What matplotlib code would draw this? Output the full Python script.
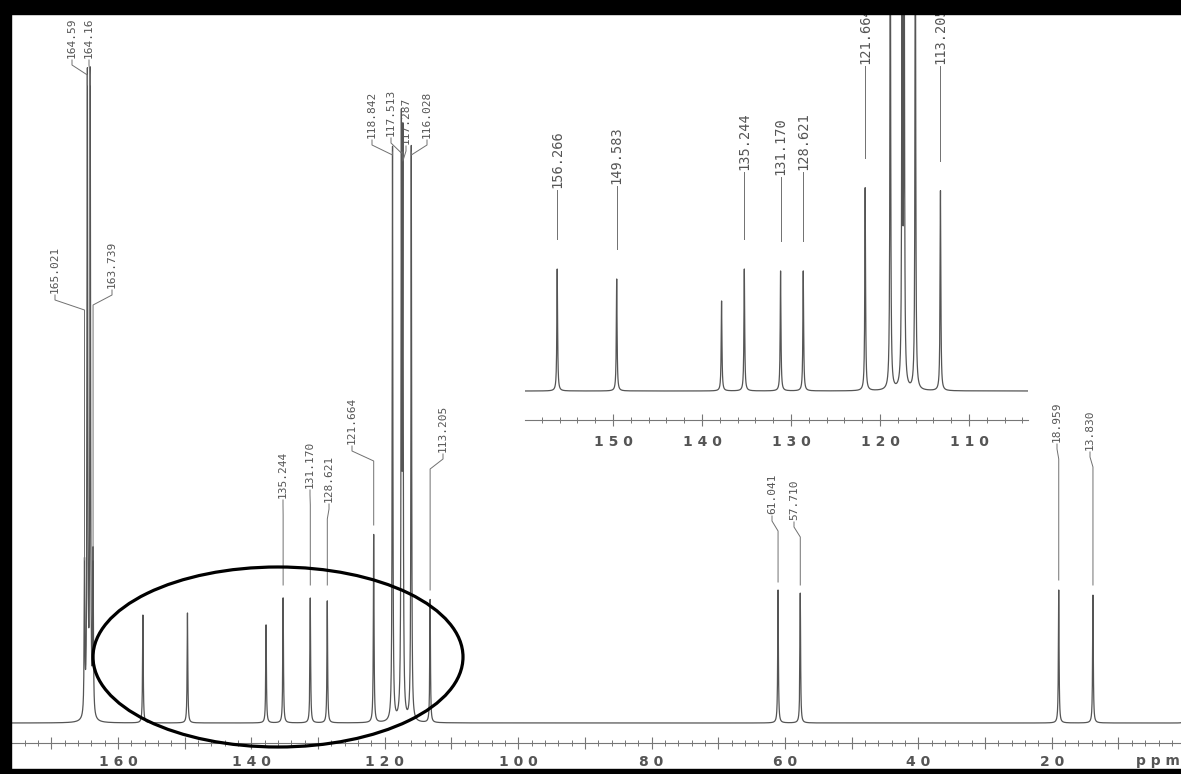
import numpy as np
import matplotlib
matplotlib.use("Agg")
import matplotlib.pyplot as plt
from matplotlib.patches import Ellipse, Rectangle
from matplotlib.ticker import MultipleLocator, FuncFormatter

W, H = 1181, 774

# 13C peaks (ppm) and their heights (main trace / expansion)
peak_ppm = [165.021, 164.59, 164.16, 163.739, 156.266, 149.583, 137.80, 135.244,
            131.170, 128.621, 121.664, 118.842, 117.513, 117.287, 116.028, 113.205,
            61.041, 57.710, 18.959, 13.830, 0.30]
main_height = [150, 640, 640, 160, 108, 110, 98, 125,
               125, 122, 188, 575, 575, 560, 575, 123,
               133, 130, 133, 128, 10]
inset_height = [0, 0, 0, 0, 122, 112, 90, 122,
                120, 120, 203, 500, 500, 500, 500, 200,
                0, 0, 0, 0, 0]

main_labels = ["165.021", "164.59", "164.16", "163.739", "135.244", "131.170",
               "128.621", "121.664", "118.842", "117.513", "117.287", "116.028",
               "113.205", "61.041", "57.710", "18.959", "13.830"]
main_label_ppm = [165.021, 164.59, 164.16, 163.739, 135.244, 131.170,
                  128.621, 121.664, 118.842, 117.513, 117.287, 116.028,
                  113.205, 61.041, 57.710, 18.959, 13.830]
inset_labels = ["156.266", "149.583", "135.244", "131.170", "128.621", "121.664", "113.205"]
inset_label_ppm = [156.266, 149.583, 135.244, 131.170, 128.621, 121.664, 113.205]

# layout of the printed labels, in pixels: text x, text bottom, end of leader
main_lab_x = [55, 72, 89, 112, 283, 310, 329, 352, 372, 391, 406, 427, 443, 772, 794, 1057, 1090]
main_lab_b = [293, 58, 58, 288, 498, 488, 502, 444, 138, 136, 144, 138, 452, 514, 520, 442, 450]
main_lab_end = [560, 85, 85, 560, 585, 585, 585, 525, 152, 152, 152, 152, 590, 582, 585, 580, 585]
inset_lab_b = [188, 184, 170, 175, 170, 64, 64]


# pixel <-> data for the two traces
def main_ppm(x):
    return 160 - (x - 118) / 6.67


def main_int(y):
    return 723 - y


def in_ppm(x):
    return 150 - (x - 613) / 8.9


def in_int(y):
    return 391 - y


def trace(grid, heights, gam=0.06):
    s = np.zeros_like(grid)
    for p, h in zip(peak_ppm, heights):
        if h > 0:
            s += h * gam**2 / ((grid - p)**2 + gam**2)
    return s


fig = plt.figure(figsize=(W / 100, H / 100), dpi=100)
fig.patch.set_facecolor("white")

line_c = "#555555"
lead_c = "#707070"
text_c = "#555555"
mono = "DejaVu Sans Mono"

# ---------------- main spectrum ----------------
ax = fig.add_axes([11 / W, 5 / H, (W - 11) / W, (769 - 14) / H])
ax.set_facecolor("none")
ax.set_xlim(main_ppm(11), main_ppm(W))
ax.set_ylim(main_int(769), main_int(14))

g = np.arange(0.0, 177.0, 0.004)
ax.plot(g, trace(g, main_height), color=line_c, lw=0.9)

for lab, p, tx, tb, te in zip(main_labels, main_label_ppm, main_lab_x, main_lab_b, main_lab_end):
    px = 118 + (160 - p) * 6.67
    xs = [main_ppm(tx), main_ppm(tx), main_ppm(px), main_ppm(px)]
    ys = [main_int(tb + 2), main_int(tb + 7), main_int(tb + 17), main_int(te)]
    ax.plot(xs, ys, color=lead_c, lw=0.7)
    ax.text(main_ppm(tx), main_int(tb), lab, rotation=90, ha="center", va="bottom",
            fontsize=8, family=mono, color=text_c)

for s in ["top", "left", "right"]:
    ax.spines[s].set_visible(False)
ax.spines["bottom"].set_position(("data", -20))
ax.spines["bottom"].set_color("#777777")
ax.yaxis.set_visible(False)
ax.xaxis.set_major_locator(MultipleLocator(10))
ax.xaxis.set_minor_locator(MultipleLocator(2))
ax.xaxis.set_major_formatter(FuncFormatter(
    lambda v, pos: " ".join(str(int(round(v)))) if int(round(v)) % 20 == 0 and v > 5 else ""))
ax.tick_params(axis="x", which="major", direction="inout", length=8, width=0.8,
               color="#777777", pad=5, labelsize=10, labelcolor="#555555")
ax.tick_params(axis="x", which="minor", direction="inout", length=5, width=0.7, color="#777777")
for t in ax.get_xticklabels():
    t.set_fontweight("bold")
ax.text(main_ppm(1180), -38, "p p m", ha="right", va="center", fontsize=10,
        color="#555555", fontweight="bold")

ell = Ellipse((main_ppm(278), main_int(657)), width=370 / 6.67, height=180,
              fill=False, ec="black", lw=2.3, zorder=5)
ax.add_patch(ell)

# ---------------- expansion 160-103 ppm ----------------
ai = fig.add_axes([525 / W, (H - 460) / H, (1028 - 525) / W, (460 - 14) / H])
ai.set_facecolor("none")
ai.set_xlim(in_ppm(525), in_ppm(1028))
ai.set_ylim(in_int(460), in_int(14))
gi = np.arange(in_ppm(1028), in_ppm(525), 0.003)
ai.plot(gi, trace(gi, inset_height, gam=0.05), color=line_c, lw=0.9)

for lab, p, tb in zip(inset_labels, inset_label_ppm, inset_lab_b):
    top = inset_height[peak_ppm.index(p)]
    ai.plot([p, p], [in_int(tb + 2), top + 30], color=lead_c, lw=0.7)
    ai.text(p, in_int(tb), lab, rotation=90, ha="center", va="bottom",
            fontsize=9.8, family=mono, color=text_c)

for s in ["top", "left", "right"]:
    ai.spines[s].set_visible(False)
ai.spines["bottom"].set_position(("data", -29))
ai.spines["bottom"].set_color("#777777")
ai.yaxis.set_visible(False)
ai.xaxis.set_major_locator(MultipleLocator(10))
ai.xaxis.set_minor_locator(MultipleLocator(2))
ai.xaxis.set_major_formatter(FuncFormatter(lambda v, pos: " ".join(str(int(round(v))))))
ai.tick_params(axis="x", which="major", direction="inout", length=8, width=0.8,
               color="#777777", pad=7, labelsize=10, labelcolor="#555555")
ai.tick_params(axis="x", which="minor", direction="inout", length=5, width=0.7, color="#777777")
for t in ai.get_xticklabels():
    t.set_fontweight("bold")

# scanner frame
fig.patches.append(Rectangle((0, 1 - 14 / H), 1, 14 / H, transform=fig.transFigure,
                             color="black", zorder=10))
fig.patches.append(Rectangle((0, 0), 11 / W, 1, transform=fig.transFigure,
                             color="black", zorder=10))
fig.patches.append(Rectangle((0, 0), 1, 5 / H, transform=fig.transFigure,
                             color="black", zorder=10))

fig.savefig("out.png", dpi=100)
